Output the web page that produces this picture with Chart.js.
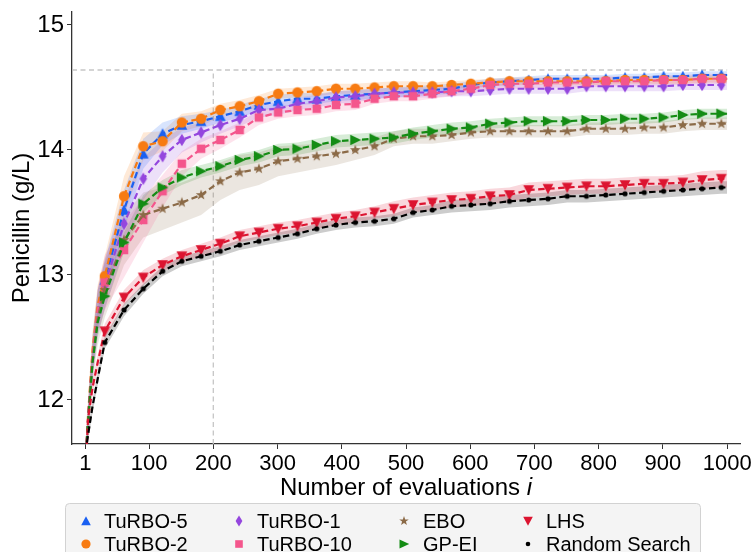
<!DOCTYPE html>
<html>
<head>
<meta charset="utf-8">
<script src="https://cdn.jsdelivr.net/npm/chart.js@4.4.1/dist/chart.umd.min.js"></script>
<style>
  html, body { margin: 0; padding: 0; background: #fff; }
  #wrap { width: 753px; height: 552px; }
</style>
</head>
<body>
<div id="wrap"><canvas id="chart" width="753" height="552"></canvas></div>
<script>
// evaluation counts where values were read (markers every 30 evals from 31)
const evals = [1, 5, 12, 20, 31, 61, 91, 121, 151, 181, 211, 241, 271, 301, 331, 361, 391, 421, 451, 481,
  511, 541, 571, 601, 631, 661, 691, 721, 751, 781, 811, 841, 871, 901, 931, 961, 991, 1000];
const markerEvals = [31, 61, 91, 121, 151, 181, 211, 241, 271, 301, 331, 361, 391, 421, 451, 481, 511,
  541, 571, 601, 631, 661, 691, 721, 751, 781, 811, 841, 871, 901, 931, 961, 991];

const xTicks = [1, 100, 200, 300, 400, 500, 600, 700, 800, 900, 1000];
const yTicks = [12, 13, 14, 15];

// reference lines
const optimum = 14.64;
const cutoffEval = 200;

// mean best value per method
const turbo5 = [11.5, 11.85, 12.35, 12.72, 12.96, 13.52, 13.97, 14.13, 14.20, 14.23, 14.27, 14.31, 14.36, 14.39,
  14.41, 14.41, 14.43, 14.44, 14.45, 14.46, 14.47, 14.48, 14.49, 14.52, 14.54, 14.55, 14.56, 14.57, 14.57,
  14.57, 14.57, 14.58, 14.58, 14.59, 14.59, 14.60, 14.60, 14.60];
const turbo2 = [11.5, 11.88, 12.4, 12.76, 12.99, 13.63, 14.03, 14.07, 14.22, 14.25, 14.32, 14.35, 14.39, 14.45,
  14.46, 14.47, 14.49, 14.49, 14.50, 14.51, 14.51, 14.51, 14.52, 14.53, 14.54, 14.55, 14.55, 14.55, 14.55,
  14.55, 14.55, 14.56, 14.56, 14.56, 14.56, 14.57, 14.57, 14.57];
const turbo1 = [11.5, 11.84, 12.32, 12.7, 12.92, 13.41, 13.77, 13.95, 14.08, 14.14, 14.20, 14.25, 14.32, 14.33,
  14.37, 14.39, 14.42, 14.43, 14.45, 14.46, 14.46, 14.46, 14.47, 14.47, 14.48, 14.49, 14.49, 14.49, 14.49,
  14.51, 14.51, 14.51, 14.51, 14.51, 14.52, 14.52, 14.52, 14.52];
const turbo10 = [11.5, 11.84, 12.34, 12.72, 12.94, 13.20, 13.44, 13.67, 13.89, 14.01, 14.08, 14.16, 14.26, 14.30,
  14.32, 14.33, 14.36, 14.37, 14.41, 14.43, 14.43, 14.45, 14.47, 14.49, 14.52, 14.53, 14.53, 14.54, 14.54,
  14.54, 14.55, 14.55, 14.55, 14.56, 14.56, 14.57, 14.57, 14.57];
const ebo = [11.5, 11.83, 12.32, 12.66, 12.88, 13.28, 13.48, 13.53, 13.58, 13.64, 13.75, 13.82, 13.85, 13.91,
  13.93, 13.95, 13.97, 14.00, 14.03, 14.09, 14.11, 14.11, 14.12, 14.14, 14.15, 14.15, 14.15, 14.15, 14.15,
  14.17, 14.17, 14.17, 14.18, 14.18, 14.20, 14.21, 14.21, 14.21];
const gpei = [11.5, 11.82, 12.3, 12.62, 12.83, 13.26, 13.57, 13.70, 13.78, 13.83, 13.87, 13.92, 13.95, 14.00,
  14.01, 14.04, 14.07, 14.08, 14.09, 14.10, 14.13, 14.15, 14.17, 14.18, 14.21, 14.22, 14.23, 14.23, 14.23,
  14.24, 14.24, 14.25, 14.25, 14.26, 14.28, 14.29, 14.29, 14.29];
const lhs = [11.4, 11.85, 12.1, 12.3, 12.55, 12.82, 12.98, 13.08, 13.15, 13.20, 13.25, 13.31, 13.34, 13.37,
  13.39, 13.42, 13.45, 13.47, 13.50, 13.53, 13.56, 13.58, 13.60, 13.61, 13.63, 13.64, 13.68, 13.69, 13.70,
  13.71, 13.71, 13.72, 13.73, 13.73, 13.74, 13.76, 13.77, 13.77];
const randomSearch = [11.58, 11.72, 11.95, 12.17, 12.46, 12.72, 12.89, 13.03, 13.11, 13.15, 13.19, 13.24, 13.27,
  13.30, 13.33, 13.37, 13.40, 13.42, 13.43, 13.45, 13.50, 13.52, 13.55, 13.56, 13.57, 13.59, 13.60, 13.61,
  13.63, 13.63, 13.64, 13.65, 13.66, 13.67, 13.68, 13.69, 13.70, 13.70];

// half width of the shaded band (standard error)
const turbo5Err = [0.10, 0.12, 0.15, 0.16, 0.16, 0.16, 0.12, 0.09, 0.07, 0.06, 0.05, 0.05, 0.05, 0.05,
  0.05, 0.04, 0.04, 0.04, 0.04, 0.04, 0.04, 0.04, 0.04, 0.03, 0.03, 0.03, 0.03, 0.03, 0.03,
  0.03, 0.03, 0.03, 0.03, 0.03, 0.03, 0.03, 0.03, 0.03];
const turbo2Err = [0.10, 0.12, 0.15, 0.16, 0.16, 0.16, 0.11, 0.08, 0.07, 0.06, 0.05, 0.05, 0.05, 0.04,
  0.04, 0.04, 0.04, 0.04, 0.04, 0.04, 0.04, 0.03, 0.03, 0.03, 0.03, 0.03, 0.03, 0.03, 0.03,
  0.03, 0.03, 0.03, 0.03, 0.03, 0.03, 0.03, 0.03, 0.03];
const turbo1Err = [0.10, 0.12, 0.15, 0.18, 0.20, 0.20, 0.17, 0.13, 0.10, 0.08, 0.07, 0.06, 0.06, 0.05,
  0.05, 0.05, 0.05, 0.05, 0.04, 0.04, 0.04, 0.04, 0.04, 0.04, 0.04, 0.04, 0.04, 0.04, 0.04,
  0.04, 0.04, 0.04, 0.04, 0.04, 0.04, 0.04, 0.04, 0.04];
const turbo10Err = [0.10, 0.12, 0.15, 0.18, 0.22, 0.22, 0.18, 0.13, 0.10, 0.08, 0.07, 0.06, 0.06, 0.05,
  0.05, 0.05, 0.05, 0.05, 0.04, 0.04, 0.04, 0.04, 0.04, 0.04, 0.04, 0.04, 0.04, 0.04, 0.04,
  0.04, 0.04, 0.04, 0.04, 0.04, 0.04, 0.04, 0.04, 0.04];
const eboErr = [0.10, 0.15, 0.20, 0.22, 0.22, 0.20, 0.18, 0.17, 0.16, 0.16, 0.15, 0.14, 0.13, 0.12,
  0.11, 0.10, 0.09, 0.08, 0.07, 0.06, 0.06, 0.06, 0.05, 0.05, 0.05, 0.05, 0.05, 0.05, 0.05,
  0.05, 0.05, 0.05, 0.05, 0.05, 0.05, 0.05, 0.05, 0.05];
const gpeiErr = [0.10, 0.12, 0.12, 0.12, 0.10, 0.08, 0.07, 0.06, 0.06, 0.05, 0.05, 0.05, 0.05, 0.05,
  0.05, 0.05, 0.05, 0.05, 0.05, 0.05, 0.05, 0.05, 0.05, 0.05, 0.04, 0.04, 0.04, 0.04, 0.04,
  0.04, 0.04, 0.04, 0.04, 0.04, 0.04, 0.04, 0.04, 0.04];
const lhsErr = [0.06, 0.06, 0.06, 0.06, 0.06, 0.06, 0.06, 0.05, 0.05, 0.05, 0.05, 0.05, 0.05, 0.05,
  0.05, 0.05, 0.05, 0.05, 0.05, 0.06, 0.06, 0.06, 0.06, 0.06, 0.06, 0.06, 0.06, 0.06, 0.06,
  0.06, 0.06, 0.06, 0.06, 0.06, 0.06, 0.07, 0.07, 0.07];
const randomErr = [0.05, 0.05, 0.05, 0.05, 0.05, 0.05, 0.04, 0.04, 0.04, 0.04, 0.04, 0.04, 0.04, 0.04,
  0.04, 0.04, 0.04, 0.04, 0.04, 0.04, 0.04, 0.04, 0.05, 0.05, 0.05, 0.05, 0.05, 0.05, 0.05,
  0.05, 0.05, 0.05, 0.05, 0.05, 0.05, 0.05, 0.05, 0.05];

const FONT = '"Liberation Sans", Arial, sans-serif';

// small canvases used as point styles (matplotlib-like markers)
function makeMarker(shape, color, s) {
  const c = document.createElement('canvas');
  c.width = 18; c.height = 18;
  const g = c.getContext('2d');
  g.translate(9, 9);
  g.scale(s, s);
  g.fillStyle = color;
  g.beginPath();
  if (shape === 'up') {
    g.moveTo(0, -4.8); g.lineTo(4.8, 4.2); g.lineTo(-4.8, 4.2);
  } else if (shape === 'down') {
    g.moveTo(0, 4.8); g.lineTo(4.8, -4.2); g.lineTo(-4.8, -4.2);
  } else if (shape === 'right') {
    g.moveTo(5.2, 0); g.lineTo(-4.5, -4.6); g.lineTo(-4.5, 4.6);
  } else if (shape === 'circle') {
    g.arc(0, 0, 4.6, 0, Math.PI * 2);
  } else if (shape === 'dot') {
    g.arc(0, 0, 2.3, 0, Math.PI * 2);
  } else if (shape === 'diamond') {
    g.moveTo(0, -5.6); g.lineTo(3.4, 0); g.lineTo(0, 5.6); g.lineTo(-3.4, 0);
  } else if (shape === 'square') {
    g.rect(-3.8, -3.8, 7.6, 7.6);
  } else if (shape === 'star') {
    for (let k = 0; k < 10; k++) {
      const r = k % 2 === 0 ? 5 : 2;
      const a = -Math.PI / 2 + k * Math.PI / 5;
      if (k === 0) g.moveTo(r * Math.cos(a), r * Math.sin(a));
      else g.lineTo(r * Math.cos(a), r * Math.sin(a));
    }
  }
  g.closePath();
  g.fill();
  return c;
}

function rgba(hex, a) {
  const n = parseInt(hex.slice(1), 16);
  return `rgba(${(n >> 16) & 255},${(n >> 8) & 255},${n & 255},${a})`;
}

const series = [
  { label: 'TuRBO-5', values: turbo5, err: turbo5Err, color: '#1a60f2', shape: 'up' },
  { label: 'TuRBO-2', values: turbo2, err: turbo2Err, color: '#f77b12', shape: 'circle' },
  { label: 'TuRBO-1', values: turbo1, err: turbo1Err, color: '#9446de', shape: 'diamond' },
  { label: 'TuRBO-10', values: turbo10, err: turbo10Err, color: '#f4568c', shape: 'square' },
  { label: 'EBO', values: ebo, err: eboErr, color: '#8b6a47', shape: 'star' },
  { label: 'GP-EI', values: gpei, err: gpeiErr, color: '#148c14', shape: 'right' },
  { label: 'LHS', values: lhs, err: lhsErr, color: '#dc1430', shape: 'down' },
  { label: 'Random Search', values: randomSearch, err: randomErr, color: '#000000', shape: 'dot' }
];
series.forEach(s => {
  s.marker = makeMarker(s.shape, s.color, 1.12);
  s.legendMarker = makeMarker(s.shape, s.color, 1.0);
});

const datasets = [];
series.forEach((s, k) => {
  datasets.push({
    label: s.label + ' upper',
    data: evals.map((x, j) => ({ x, y: s.values[j] + s.err[j] })),
    fill: '+1',
    backgroundColor: rgba(s.color, s.color === '#000000' ? 0.2 : 0.17),
    borderWidth: 0,
    pointRadius: 0,
    order: 100
  });
  datasets.push({
    label: s.label + ' lower',
    data: evals.map((x, j) => ({ x, y: s.values[j] - s.err[j] })),
    fill: false,
    borderWidth: 0,
    pointRadius: 0,
    order: 100
  });
  datasets.push({
    label: s.label,
    data: evals.map((x, j) => ({ x, y: s.values[j] })),
    borderColor: s.color,
    borderWidth: 2.2,
    borderDash: [6.5, 3.5],
    fill: false,
    pointStyle: s.marker,
    pointRadius: ctx => (ctx.raw && markerEvals.includes(ctx.raw.x)) ? 5 : 0,
    tension: 0,
    order: 20 - k
  });
});

// dashed reference lines
datasets.push({
  label: 'optimum',
  data: [{ x: -20, y: optimum }, { x: 1000, y: optimum }],
  borderColor: '#c6c6c6', borderWidth: 1.3, borderDash: [5, 3.5], pointRadius: 0, fill: false, order: 300
});
datasets.push({
  label: 'cutoff',
  data: [{ x: cutoffEval, y: 11.648 }, { x: cutoffEval, y: optimum }],
  borderColor: '#c6c6c6', borderWidth: 1.3, borderDash: [5, 3.5], pointRadius: 0, fill: false, order: 300
});

// x-axis title (with italic i) and the 4-column legend below it
const annotations = {
  id: 'annotations',
  afterDraw(chart) {
    const ctx = chart.ctx;
    const area = chart.chartArea;
    ctx.save();
    ctx.fillStyle = '#000';
    ctx.textBaseline = 'alphabetic';
    const main = 'Number of evaluations ';
    ctx.font = '24px ' + FONT;
    const w1 = ctx.measureText(main).width;
    ctx.font = 'italic 24px ' + FONT;
    const w2 = ctx.measureText('i').width;
    const cx = (area.left + area.right) / 2;
    const x0 = cx - (w1 + w2) / 2;
    ctx.font = '24px ' + FONT;
    ctx.fillText(main, x0, 495);
    ctx.font = 'italic 24px ' + FONT;
    ctx.fillText('i', x0 + w1, 495);

    // legend frame
    const bx = 65.5, by = 503.5, bw = 635, bh = 70, r = 4;
    ctx.beginPath();
    ctx.moveTo(bx + r, by);
    ctx.lineTo(bx + bw - r, by);
    ctx.quadraticCurveTo(bx + bw, by, bx + bw, by + r);
    ctx.lineTo(bx + bw, by + bh);
    ctx.lineTo(bx, by + bh);
    ctx.lineTo(bx, by + r);
    ctx.quadraticCurveTo(bx, by, bx + r, by);
    ctx.closePath();
    ctx.fillStyle = '#f4f4f4';
    ctx.fill();
    ctx.strokeStyle = '#d2d2d2';
    ctx.lineWidth = 1;
    ctx.stroke();

    const markerX = [86, 239, 404, 528];
    const textX = [104, 257, 423, 546];
    const rowY = [521, 544];
    ctx.font = '20px ' + FONT;
    ctx.textBaseline = 'middle';
    ctx.fillStyle = '#000';
    series.forEach((s, k) => {
      const col = Math.floor(k / 2), row = k % 2;
      ctx.drawImage(s.legendMarker, markerX[col] - 9, rowY[row] - 9);
      ctx.fillText(s.label, textX[col], rowY[row] + 1);
    });
    ctx.restore();
  }
};

new Chart(document.getElementById('chart'), {
  type: 'line',
  data: { datasets },
  options: {
    responsive: false,
    animation: false,
    events: [],
    layout: { padding: { left: 0, right: 13, top: 12, bottom: 0 } },
    plugins: {
      legend: { display: false },
      tooltip: { enabled: false }
    },
    scales: {
      x: {
        type: 'linear',
        min: -20,
        max: 1020,
        afterBuildTicks: axis => { axis.ticks = xTicks.map(v => ({ value: v })); },
        afterFit: axis => { axis.height = 108; axis.paddingLeft = 0; axis.paddingRight = 0; },
        ticks: { color: '#000', font: { family: FONT, size: 22 }, padding: 2, maxRotation: 0, autoSkip: false,
          callback: v => String(v) },
        grid: { display: true, drawOnChartArea: false, drawTicks: true, tickLength: 5, color: '#333' },
        border: { display: true, color: '#333', width: 1.3 }
      },
      y: {
        type: 'linear',
        min: 11.648,
        max: 15.104,
        afterBuildTicks: axis => { axis.ticks = yTicks.map(v => ({ value: v })); },
        afterFit: axis => { axis.width = 72; axis.paddingTop = 0; axis.paddingBottom = 0; },
        ticks: { color: '#000', font: { family: FONT, size: 24 }, padding: 3, callback: v => String(v) },
        grid: { display: true, drawOnChartArea: false, drawTicks: true, tickLength: 5, color: '#333' },
        border: { display: true, color: '#333', width: 1.3 },
        title: { display: true, text: 'Penicillin (g/L)', color: '#000', font: { family: FONT, size: 24 }, padding: { top: 8, bottom: 0 } }
      }
    }
  },
  plugins: [annotations]
});
</script>
</body>
</html>
